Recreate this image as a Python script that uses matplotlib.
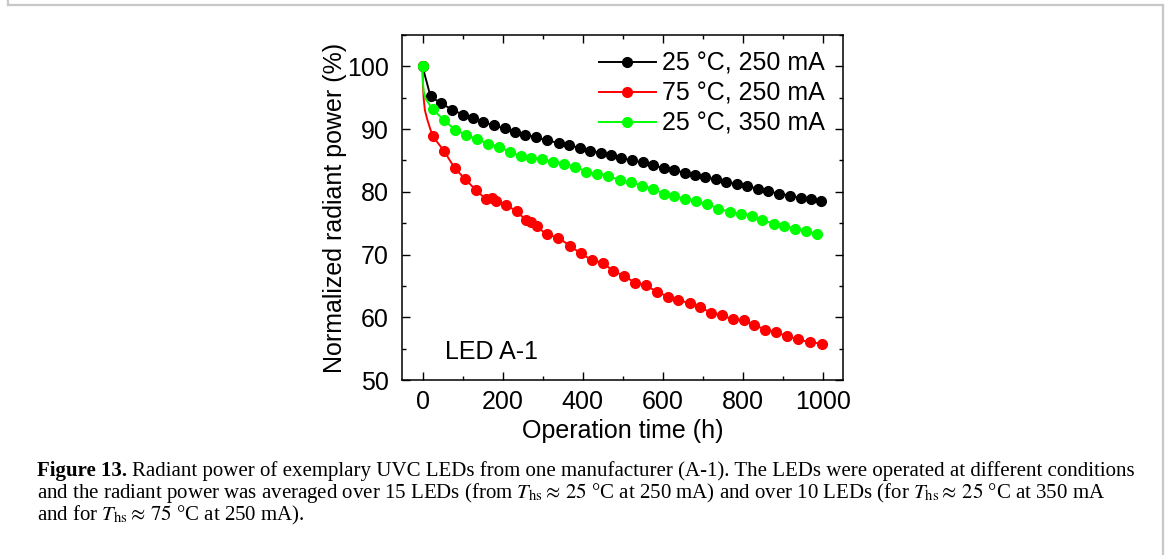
import matplotlib
matplotlib.use("Agg")
import matplotlib.pyplot as plt
from matplotlib.lines import Line2D
from matplotlib.ticker import MultipleLocator

plt.rcParams["font.family"] = ["Liberation Sans", "DejaVu Sans"]
plt.rcParams["mathtext.fontset"] = "stix"

# operation time (h) and normalized radiant power (%) for LED A-1
t_25_250 = [0, 20, 47, 74, 101, 126, 152, 179, 205, 231, 257, 284, 310, 340, 367, 393,
            419, 446, 471, 496, 523, 550, 576, 603, 629, 655, 681, 706, 732, 758, 785,
            811, 837, 863, 890, 917, 944, 970, 995]
p_25_250 = [100, 95.2, 94.1, 93.1, 92.3, 91.7, 91.1, 90.6, 90.1, 89.6, 89.1, 88.7, 88.2,
            87.8, 87.4, 87.0, 86.5, 86.2, 85.8, 85.4, 85.0, 84.7, 84.2, 83.8, 83.5, 83.0,
            82.7, 82.3, 82.0, 81.6, 81.2, 80.9, 80.5, 80.1, 79.7, 79.4, 79.0, 78.8, 78.5]

t_75_250 = [0, 1, 3, 6, 12, 25, 54, 80, 107, 133, 159, 173, 184, 209, 235, 258, 270, 285,
            310, 339, 368, 395, 423, 450, 476, 503, 531, 557, 585, 612, 639, 667, 694,
            721, 748, 775, 802, 829, 856, 884, 910, 937, 968, 997]
p_75_250 = [100, 97.0, 94.8, 93.0, 91.5, 88.9, 86.5, 83.8, 82.0, 80.3, 78.8, 79.0, 78.6,
            77.9, 76.9, 75.5, 75.2, 74.5, 73.2, 72.7, 71.4, 70.2, 69.1, 68.7, 67.4, 66.6,
            65.5, 65.1, 64.1, 63.3, 62.8, 62.2, 61.6, 60.7, 60.3, 59.7, 59.5, 58.8, 58.0,
            57.6, 57.0, 56.5, 56.0, 55.8]

t_25_350 = [0, 1, 3, 8, 25, 54, 81, 108, 135, 163, 190, 218, 245, 272, 299, 327, 354, 382,
            409, 436, 464, 492, 520, 547, 575, 602, 629, 656, 683, 711, 739, 767, 795, 822,
            849, 877, 904, 931, 958, 985]
p_25_350 = [100, 97.5, 96.0, 94.8, 93.2, 91.4, 89.9, 89.1, 88.4, 87.7, 87.2, 86.4, 85.7,
            85.4, 85.2, 84.8, 84.5, 84.0, 83.2, 82.9, 82.5, 81.9, 81.5, 81.0, 80.5, 79.7,
            79.4, 78.8, 78.5, 78.1, 77.3, 76.8, 76.5, 76.1, 75.5, 74.9, 74.6, 74.1, 73.8, 73.3]

labels = ["25 °C, 250 mA", "75 °C, 250 mA", "25 °C, 350 mA"]
colors = ["#000000", "#ff0000", "#00ff00"]

fig = plt.figure(figsize=(11.68, 5.55), dpi=100)
ax = fig.add_axes([0.3446, 0.3153, 0.3771, 0.6216])

series = [(t_25_250, p_25_250, [0] + list(range(1, len(t_25_250)))),
          (t_75_250, p_75_250, [0] + list(range(5, len(t_75_250)))),
          (t_25_350, p_25_350, [0] + list(range(4, len(t_25_350))))]
for (t, p, every), lab, c in zip(series, labels, colors):
    ax.plot(t, p, "-o", color=c, lw=1.4, ms=7, markevery=every, label=lab)

ax.set_xlim(-50, 1050)
ax.set_ylim(50, 105)
ax.xaxis.set_major_locator(MultipleLocator(200))
ax.xaxis.set_minor_locator(MultipleLocator(100))
ax.yaxis.set_major_locator(MultipleLocator(10))
ax.yaxis.set_minor_locator(MultipleLocator(5))
ax.tick_params(which="both", direction="in", top=True, right=True, width=1.0, labelsize=18)
ax.tick_params(which="major", length=5.5)
ax.tick_params(which="minor", length=3)
ax.tick_params(axis="x", pad=7)
ax.tick_params(axis="y", pad=10)
for s in ax.spines.values():
    s.set_linewidth(1.1)

ax.set_xlabel("Operation time (h)", fontsize=18, labelpad=4)
ax.set_ylabel("Normalized radiant power (%)", fontsize=18, labelpad=0)
ax.text(57, 54.5, "LED A-1", fontsize=18, va="center", ha="left")

ax.legend(loc="upper right", bbox_to_anchor=(0.997, 1.0), frameon=False, fontsize=18,
          handlelength=2.3, handletextpad=0.25, labelspacing=0.25, borderaxespad=0.25)

# caption below the plot
cap = dict(fontsize=15, family="Liberation Serif", va="baseline", ha="left")
x0, y1 = 37 / 1168, 1 - 476 / 555
dy = 22 / 555
head = fig.text(x0, y1, "Figure 13.", fontweight="bold", **cap)
fig.canvas.draw()
bb = head.get_window_extent()
fig.text(bb.x1 / 1168 + 0.004, y1,
         "Radiant power of exemplary UVC LEDs from one manufacturer (A-1). "
         "The LEDs were operated at different conditions", **cap)
fig.text(x0, y1 - dy,
         r"and the radiant power was averaged over 15 LEDs (from $T_{\mathrm{hs}}\approx\,25$ °C "
         r"at 250 mA) and over 10 LEDs (for $T_{\mathrm{hs}}\approx\,25$ °C at 350 mA", **cap)
fig.text(x0, y1 - 2 * dy,
         r"and for $T_{\mathrm{hs}}\approx\,75$ °C at 250 mA).", **cap)

# grey frame around the figure
grey = "#c8c8c8"
for xs, ys in [([8, 8], [0, 5]), ([8, 1163], [5, 5]), ([1163, 1163], [5, 555])]:
    fig.add_artist(Line2D([x / 1168 for x in xs], [1 - y / 555 for y in ys],
                          color=grey, lw=1.6, transform=fig.transFigure))

fig.savefig("out.png", dpi=100)
